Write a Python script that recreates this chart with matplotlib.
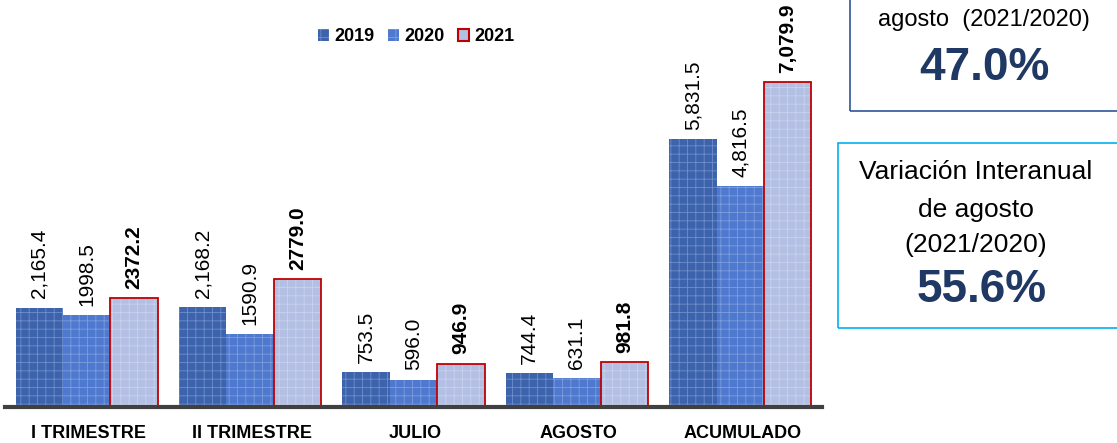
import matplotlib.pyplot as plt
import numpy as np
from matplotlib.patches import FancyBboxPatch

categories = ['I TRIMESTRE', 'II TRIMESTRE', 'JULIO', 'AGOSTO', 'ACUMULADO']
v2019 = [2165.4, 2168.2, 753.5, 744.4, 5831.5]
v2020 = [1998.5, 1590.9, 596.0, 631.1, 4816.5]
v2021 = [2372.2, 2779.0, 946.9, 981.8, 7079.9]
lab2019 = ['2,165.4', '2,168.2', '753.5', '744.4', '5,831.5']
lab2020 = ['1998.5', '1590.9', '596.0', '631.1', '4,816.5']
lab2021 = ['2372.2', '2779.0', '946.9', '981.8', '7,079.9']

fam = ['Liberation Sans', 'DejaVu Sans']
plt.rcParams['font.family'] = fam
plt.rcParams['hatch.linewidth'] = 0.6

fig = plt.figure(figsize=(11.17, 4.43), dpi=100)
ax = fig.add_axes([5/1117, 36/443, 817/1117, 407/443])

x = np.arange(len(categories))
w = 0.29
c19, c20, c21 = '#3d63ad', '#4f79cf', '#b3bfe3'

ax.bar(x - w, v2019, w, color=c19, edgecolor='#6f8fcc', hatch='++', linewidth=0, label='2019')
ax.bar(x, v2020, w, color=c20, edgecolor='#7e9ddd', hatch='++', linewidth=0, label='2020')
ax.bar(x + w, v2021, w, color=c21, edgecolor='#c9d2ee', hatch='++', linewidth=0)
ax.bar(x + w, v2021, w, color='none', edgecolor='#c00000', linewidth=1.3)
# legend proxy for 2021
ax.bar([0], [0], 0, color=c21, edgecolor='#c00000', linewidth=1.5, label='2021')

for i in range(len(categories)):
    ax.text(x[i] - w, v2019[i] + 200, lab2019[i], rotation=90, ha='center', va='bottom', fontsize=15)
    ax.text(x[i], v2020[i] + 200, lab2020[i], rotation=90, ha='center', va='bottom', fontsize=15)
    ax.text(x[i] + w, v2021[i] + 200, lab2021[i], rotation=90, ha='center', va='bottom',
            fontsize=15, fontweight='bold')

ax.set_xlim(-0.5, 4.5)
ax.set_ylim(0, 8860)
ax.set_xticks(x + 0.012)
ax.set_xticklabels(categories, fontsize=13, fontweight='bold')
ax.tick_params(axis='x', length=0, pad=13)
ax.set_yticks([])
for s in ['top', 'right', 'left']:
    ax.spines[s].set_visible(False)
ax.spines['bottom'].set_color('#404040')
ax.spines['bottom'].set_linewidth(3)

leg = ax.legend(loc='upper center', bbox_to_anchor=(0.503, 0.97), ncol=3, frameon=False,
                prop={'family': fam, 'weight': 'bold', 'size': 13},
                handlelength=0.6, handleheight=0.6, handletextpad=0.3, columnspacing=0.75)

# right-hand boxes
box1 = FancyBboxPatch((850/1117, 1 - 111/443), 300/1117, 200/443, boxstyle='square,pad=0',
                      transform=fig.transFigure, fill=False, edgecolor='#2f5597', linewidth=1.2)
fig.patches.append(box1)
fig.text(984/1117, 1 - 20/443, 'agosto  (2021/2020)', ha='center', va='center', fontsize=17)
fig.text(984/1117, 1 - 68/443, '47.0%', ha='center', va='center', fontsize=33,
         fontweight='bold', color='#1f3864')

box2 = FancyBboxPatch((838/1117, 1 - 328/443), 300/1117, 185/443, boxstyle='square,pad=0',
                      transform=fig.transFigure, fill=False, edgecolor='#00b0f0', linewidth=1.2)
fig.patches.append(box2)
fig.text(976/1117, 1 - 172/443, 'Variación Interanual', ha='center', va='center', fontsize=19)
fig.text(976/1117, 1 - 210/443, 'de agosto', ha='center', va='center', fontsize=19)
fig.text(976/1117, 1 - 245/443, '(2021/2020)', ha='center', va='center', fontsize=19)
fig.text(982/1117, 1 - 290/443, '55.6%', ha='center', va='center', fontsize=33,
         fontweight='bold', color='#1f3864')

fig.savefig('out.png', dpi=100)
